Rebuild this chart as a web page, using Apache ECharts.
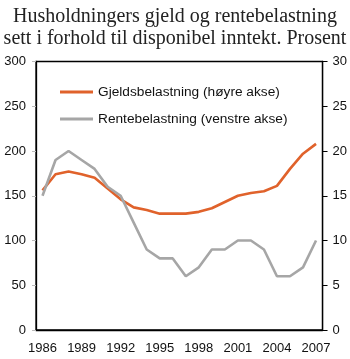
<!DOCTYPE html>
<html><head><meta charset="utf-8">
<script src="https://cdn.jsdelivr.net/npm/echarts@6/dist/echarts.min.js"></script>
<style>html,body{margin:0;padding:0;background:#fff}#c{width:350px;height:359px}</style>
</head><body><div id="c"></div>
<script>
const years = ['1986','1987','1988','1989','1990','1991','1992','1993','1994','1995','1996','1997','1998','1999','2000','2001','2002','2003','2004','2005','2006','2007'];
const gjeld = [156,174,177,174,170,158,146,137,134,130,130,130,132,136,143,150,153,155,161,180,197,208];
const rente = [15,19,20,19,18,16,15,12,9,8,8,6,7,9,9,10,10,9,6,6,7,10];
const leftTicks = {min:0, max:300, interval:50};
const rightTicks = {min:0, max:30, interval:5};
const nameGjeld = 'Gjeldsbelastning (høyre akse)';
const nameRente = 'Rentebelastning (venstre akse)';

const chart = echarts.init(document.getElementById('c'), null, {renderer:'canvas'});
const lab = {color:'#111', fontFamily:'Liberation Sans, Arial, sans-serif', fontSize:13};
chart.setOption({
  animation:false,
  title:{text:'Husholdningers gjeld og rentebelastning\nsett i forhold til disponibel inntekt. Prosent',
    left:'center', top:1,
    textStyle:{fontFamily:'Liberation Serif, Times New Roman, serif', fontSize:20, lineHeight:22, fontWeight:'normal', color:'#222'}},
  grid:{left:36, right:26, top:61.5, bottom:29, show:true, borderColor:'#000', borderWidth:1.3, backgroundColor:'transparent'},
  legend:{left:60, top:84, padding:0, orient:'vertical', icon:'rect', itemWidth:33, itemHeight:3, itemGap:11,
    textStyle:{fontFamily:'Liberation Sans, Arial, sans-serif', fontSize:13.7, color:'#111', lineHeight:16, padding:[0,0,0,0]},
    data:[nameGjeld, nameRente]},
  xAxis:{type:'category', data:years, boundaryGap:true,
    axisLine:{lineStyle:{color:'#000', width:1.3}},
    axisTick:{interval:2, length:4, lineStyle:{color:'#bbb'}},
    axisLabel:Object.assign({interval:2, margin:12}, lab)},
  yAxis:[
    Object.assign({type:'value', position:'left', splitLine:{show:false},
      axisLine:{show:true, lineStyle:{color:'#000', width:1.3}},
      axisTick:{show:true, length:4, lineStyle:{color:'#bbb'}},
      axisLabel:Object.assign({margin:10}, lab)}, leftTicks),
    Object.assign({type:'value', position:'right', splitLine:{show:false},
      axisLine:{show:true, lineStyle:{color:'#000', width:1.3}},
      axisTick:{show:true, length:5, lineStyle:{color:'#000'}},
      axisLabel:Object.assign({margin:10}, lab)}, rightTicks)
  ],
  series:[
    {name:nameGjeld, type:'line', yAxisIndex:0, data:gjeld, symbol:'none', lineStyle:{color:'#E0622B', width:2.6}, itemStyle:{color:'#E0622B'}},
    {name:nameRente, type:'line', yAxisIndex:1, data:rente, symbol:'none', lineStyle:{color:'#A6A6A6', width:2.6}, itemStyle:{color:'#A6A6A6'}}
  ]
});
</script></body></html>
